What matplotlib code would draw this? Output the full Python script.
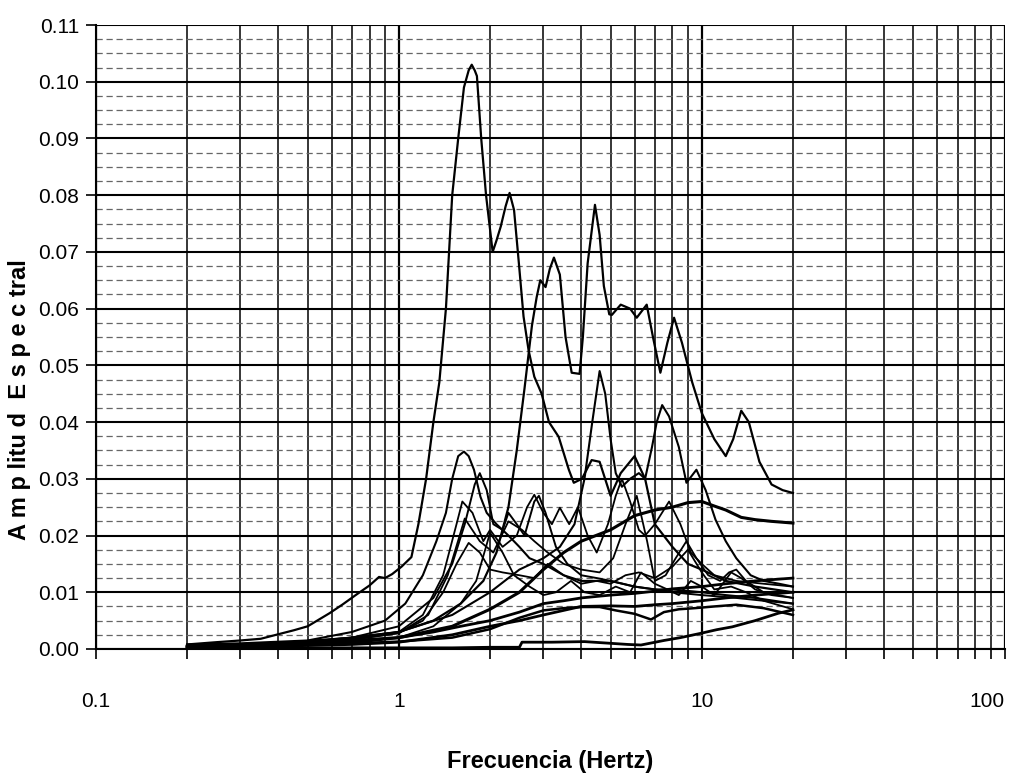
import matplotlib
matplotlib.use("Agg")
import matplotlib.pyplot as plt
from matplotlib.ticker import MultipleLocator, FixedLocator, NullFormatter

# spectra (frequency in Hz, spectral amplitude)
f_a = [0.2, 0.25, 0.3, 0.35, 0.4, 0.45, 0.5, 0.59, 0.65, 0.72, 0.8, 0.86, 0.9, 0.95, 1.02, 1.1, 1.16, 1.23,
       1.3, 1.36, 1.43, 1.5, 1.57, 1.64, 1.70, 1.74, 1.78, 1.81, 1.87, 1.94, 2.04, 2.10, 2.17, 2.25, 2.32,
       2.40, 2.49, 2.58, 2.68, 2.80, 2.96, 3.13, 3.37, 3.64, 3.78, 4.02, 4.33, 4.6, 5.0, 5.4, 6.0, 6.5, 7.0,
       8.0, 9.0, 10, 12, 15, 20]
amp_a = [0.0008, 0.0012, 0.0015, 0.0018, 0.0026, 0.0033, 0.0040, 0.0063, 0.0078, 0.0095, 0.0112, 0.0127,
         0.0125, 0.0132, 0.0145, 0.0162, 0.022, 0.030, 0.040, 0.047, 0.060, 0.080, 0.090, 0.099, 0.102, 0.103,
         0.102, 0.101, 0.090, 0.080, 0.070, 0.072, 0.0745, 0.078, 0.0804, 0.0774, 0.068, 0.0586, 0.0527,
         0.048, 0.045, 0.040, 0.0374, 0.0316, 0.0293, 0.030, 0.0333, 0.033, 0.027, 0.031, 0.034, 0.030,
         0.022, 0.018, 0.015, 0.014, 0.012, 0.011, 0.010]

f_b = [0.2, 0.3, 0.5, 0.7, 1.0, 1.3, 1.6, 1.9, 2.1, 2.3, 2.45, 2.6, 2.75, 2.85, 2.93, 3.05, 3.15, 3.25, 3.4,
       3.55, 3.72, 3.95, 4.05, 4.2, 4.44, 4.6, 4.75, 4.95, 5.05, 5.4, 5.8, 6.1, 6.58, 6.9, 7.3, 7.7, 8.1,
       8.6, 9.3, 10, 11, 12, 12.7, 13.5, 14.3, 15.5, 17, 18.5, 20]
amp_b = [0.0005, 0.0007, 0.0012, 0.002, 0.003, 0.005, 0.008, 0.012, 0.017, 0.025, 0.035, 0.046, 0.057, 0.062,
         0.065, 0.0638, 0.067, 0.069, 0.066, 0.055, 0.0487, 0.0485, 0.055, 0.068, 0.0783, 0.073, 0.064,
         0.059, 0.0589, 0.0607, 0.060, 0.0584, 0.0607, 0.055, 0.0487, 0.054, 0.0584, 0.054, 0.047, 0.0416,
         0.037, 0.034, 0.037, 0.042, 0.040, 0.033, 0.029, 0.028, 0.0275]

f_c = [0.2, 0.4, 0.7, 1.0, 1.5, 2.0, 2.5, 3.0, 3.4, 3.8, 4.1, 4.35, 4.6, 4.8, 5.0, 5.2, 5.45, 5.8, 6.2, 6.5,
       6.85, 7.1, 7.4, 7.8, 8.4, 8.9, 9.6, 10.3, 11.1, 12, 13, 14.5, 16, 18, 20]
amp_c = [0.0005, 0.001, 0.002, 0.003, 0.006, 0.010, 0.014, 0.016, 0.018, 0.022, 0.030, 0.040, 0.049, 0.045,
         0.037, 0.031, 0.0286, 0.030, 0.031, 0.030, 0.0356, 0.040, 0.043, 0.041, 0.0356, 0.0293, 0.0316,
         0.028, 0.0228, 0.019, 0.016, 0.013, 0.012, 0.0115, 0.011]

f_d = [0.2, 0.3, 0.5, 0.7, 0.9, 1.05, 1.2, 1.33, 1.43, 1.5, 1.57, 1.64, 1.7, 1.77, 1.86, 1.95, 2.1, 2.3, 2.5,
       2.7, 3.0, 3.5, 4, 5, 6, 7, 8, 10, 12, 15, 20]
amp_d = [0.0008, 0.001, 0.0015, 0.003, 0.005, 0.008, 0.013, 0.019, 0.024, 0.030, 0.034, 0.0348, 0.034, 0.0316,
         0.0268, 0.024, 0.022, 0.020, 0.018, 0.016, 0.015, 0.013, 0.012, 0.012, 0.011, 0.0105, 0.0105,
         0.010, 0.0095, 0.009, 0.008]

f_e = [0.2, 0.4, 0.7, 1.0, 1.3, 1.5, 1.65, 1.78, 1.85, 1.95, 2.05, 2.2, 2.3, 2.45, 2.6, 2.8, 2.9, 3.05, 3.3,
       3.6, 4.0, 4.5, 5, 6, 7, 8, 10, 13, 16, 20]
amp_e = [0.0005, 0.001, 0.002, 0.004, 0.009, 0.015, 0.022, 0.029, 0.031, 0.028, 0.022, 0.021, 0.024, 0.022,
         0.020, 0.026, 0.027, 0.024, 0.018, 0.015, 0.013, 0.0125, 0.012, 0.011, 0.0105, 0.010, 0.0095,
         0.009, 0.0085, 0.008]

f_f = [0.2, 0.4, 0.7, 1.0, 1.2, 1.4, 1.55, 1.62, 1.75, 1.9, 2.0, 2.2, 2.45, 2.65, 2.8, 3.0, 3.2, 3.4, 3.65,
       3.9, 4.2, 4.5, 4.9, 5.2, 5.45, 5.8, 6.2, 6.5, 7.0, 7.8, 8.5, 9.2, 10, 11, 13, 16, 20]
amp_f = [0.0006, 0.001, 0.0018, 0.003, 0.006, 0.013, 0.022, 0.026, 0.024, 0.019, 0.021, 0.018, 0.020, 0.025,
         0.0272, 0.024, 0.022, 0.0249, 0.022, 0.025, 0.020, 0.017, 0.022, 0.027, 0.030, 0.026, 0.021, 0.020,
         0.022, 0.026, 0.022, 0.017, 0.015, 0.013, 0.012, 0.0115, 0.011]

f_g = [0.2, 0.4, 0.7, 1.0, 1.25, 1.45, 1.65, 1.85, 2.05, 2.3, 2.55, 2.8, 3.1, 3.5, 4.0, 4.6, 5.1, 5.6, 6.1,
       6.6, 7.0, 7.6, 8.2, 8.9, 9.6, 10.5, 11.5, 12.3, 13.0, 14.0, 16, 20]
amp_g = [0.0006, 0.001, 0.0017, 0.0028, 0.006, 0.013, 0.023, 0.019, 0.017, 0.0225, 0.021, 0.019, 0.017,
         0.015, 0.014, 0.0135, 0.016, 0.022, 0.027, 0.019, 0.012, 0.013, 0.016, 0.019, 0.016, 0.013, 0.012,
         0.0135, 0.014, 0.012, 0.010, 0.009]

f_h = [0.2, 0.5, 1.0, 1.5, 2.0, 2.5, 3.0, 3.5, 4.0, 5.0, 6.0, 7.0, 8.0, 9.0, 10, 11, 12, 13.5, 15, 17, 20]
amp_h = [0.0005, 0.001, 0.002, 0.004, 0.007, 0.010, 0.014, 0.017, 0.019, 0.021, 0.0235, 0.0245, 0.025, 0.0258,
         0.026, 0.0252, 0.0245, 0.0232, 0.0228, 0.0225, 0.0222]

f_i = [0.2, 0.4, 0.7, 1.0, 1.2, 1.4, 1.55, 1.7, 1.85, 2.0, 2.2, 2.5, 2.8, 3.1, 3.5, 4.0, 4.5, 5.0, 5.6, 6.2,
       7.0, 8.0, 9.0, 10, 11, 12.5, 14, 16, 20]
amp_i = [0.0005, 0.0009, 0.0016, 0.0028, 0.005, 0.010, 0.015, 0.0187, 0.017, 0.014, 0.0135, 0.013, 0.0125,
         0.015, 0.013, 0.0115, 0.012, 0.0115, 0.013, 0.0135, 0.0125, 0.0145, 0.0175, 0.0135, 0.0105,
         0.011, 0.010, 0.0085, 0.007]

f_j = [0.2, 0.4, 0.7, 1.0, 1.3, 1.6, 1.8, 2.0, 2.2, 2.4, 2.7, 3.0, 3.3, 3.7, 4.1, 4.6, 5.2, 5.8, 6.3, 7.0,
       7.7, 8.4, 9.2, 10, 11, 12.5, 13.5, 15, 17, 20]
amp_j = [0.0004, 0.0008, 0.0013, 0.002, 0.004, 0.008, 0.012, 0.0205, 0.017, 0.013, 0.011, 0.0095, 0.010,
         0.012, 0.010, 0.0095, 0.011, 0.010, 0.0135, 0.0115, 0.0105, 0.0095, 0.012, 0.011, 0.0095, 0.0135,
         0.0125, 0.0105, 0.0095, 0.009]

f_k = [0.2, 0.4, 0.7, 1.0, 1.3, 1.6, 2.0, 2.5, 3.0, 3.5, 4.0, 5.0, 6.0, 7.0, 8.0, 10, 12, 15, 20]
amp_k = [0.0004, 0.0007, 0.0011, 0.002, 0.003, 0.004, 0.005, 0.0065, 0.008, 0.0085, 0.009, 0.0095, 0.0098,
         0.0102, 0.0106, 0.011, 0.0115, 0.012, 0.0125]

f_l = [0.2, 0.4, 0.7, 1.0, 1.5, 2.0, 2.5, 3.0, 4.0, 5.0, 6.0, 7.0, 8.0, 10, 12, 15, 20]
amp_l = [0.0003, 0.0005, 0.0008, 0.0012, 0.0025, 0.004, 0.005, 0.006, 0.0075, 0.0076, 0.0075, 0.0078, 0.008,
         0.0085, 0.009, 0.0095, 0.010]

f_m = [0.2, 0.5, 1.0, 1.5, 2.0, 2.5, 3.0, 3.5, 4.0, 4.6, 5.2, 6.0, 6.8, 7.5, 8.4, 9.5, 11, 13, 16, 20]
amp_m = [0.0004, 0.0007, 0.0013, 0.002, 0.0035, 0.0055, 0.0068, 0.0072, 0.0074, 0.0074, 0.0068, 0.0062,
         0.0052, 0.0065, 0.0070, 0.0072, 0.0075, 0.0078, 0.0072, 0.006]

f_n = [0.2, 0.5, 1.0, 1.5, 2.0, 2.5, 2.55, 3.2, 4.1, 5.0, 5.7, 6.3, 7.5, 8.5, 10, 11.2, 12.6, 15, 17.9, 20]
amp_n = [0.0002, 0.0002, 0.0002, 0.0002, 0.0003, 0.0003, 0.0012, 0.0012, 0.0013, 0.001, 0.0008, 0.0007,
         0.0015, 0.002, 0.0028, 0.0034, 0.0039, 0.005, 0.0063, 0.0069]

curves = [(f_a, amp_a, 1.6), (f_b, amp_b, 1.6), (f_c, amp_c, 1.5), (f_d, amp_d, 1.5), (f_e, amp_e, 1.4),
          (f_f, amp_f, 1.3), (f_g, amp_g, 1.3), (f_h, amp_h, 2.2), (f_i, amp_i, 1.3), (f_j, amp_j, 1.3),
          (f_k, amp_k, 2.0), (f_l, amp_l, 2.0), (f_m, amp_m, 1.8), (f_n, amp_n, 2.0)]

x_ticks = [0.1, 1, 10, 100]
x_tick_labels = ["0.1", "1", "10", "100"]
y_ticks = [0.00, 0.01, 0.02, 0.03, 0.04, 0.05, 0.06, 0.07, 0.08, 0.09, 0.10, 0.11]

font = ["Liberation Sans", "DejaVu Sans"]

fig = plt.figure(figsize=(10.21, 7.79), dpi=100)
ax = fig.add_axes([0.094, 0.1669, 0.890, 0.801])

for f, amp, lw in curves:
    ax.plot(f, amp, color="black", linewidth=lw, zorder=3)

ax.set_xscale("log")
ax.set_xlim(0.1, 100)
ax.set_ylim(0, 0.11)

ax.xaxis.set_major_locator(FixedLocator(x_ticks))
ax.set_xticklabels(x_tick_labels)
minor_x = [m * d for d in [0.1, 1, 10] for m in range(2, 10)]
ax.xaxis.set_minor_locator(FixedLocator(minor_x))
ax.xaxis.set_minor_formatter(NullFormatter())
ax.yaxis.set_major_locator(FixedLocator(y_ticks))
ax.set_yticklabels(["%.2f" % v for v in y_ticks])
ax.yaxis.set_minor_locator(MultipleLocator(0.0025))

ax.grid(which="major", axis="y", color="black", linewidth=1.5, zorder=1)
ax.grid(which="minor", axis="y", color="#666666", linewidth=0.9, linestyle=(0, (5, 3)), zorder=1)
ax.grid(which="major", axis="x", color="black", linewidth=1.6, zorder=1)
ax.grid(which="minor", axis="x", color="black", linewidth=1.1, zorder=1)
ax.set_axisbelow(True)

for side in ["top", "right"]:
    ax.spines[side].set_visible(False)
ax.spines["left"].set_linewidth(1.5)
ax.spines["bottom"].set_linewidth(1.5)

ax.tick_params(axis="x", which="both", direction="out", length=7, width=1.2, pad=24)
ax.tick_params(axis="y", which="major", direction="out", length=7, width=1.2, pad=5)
ax.tick_params(axis="y", which="minor", length=0)
for lab in ax.get_yticklabels():
    lab.set_family(font)
    lab.set_fontsize(15)
for lab in ax.get_xticklabels():
    lab.set_family(font)
    lab.set_fontsize(15)
ax.get_xticklabels()[-1].set_horizontalalignment("right")

ax.set_xlabel("Frecuencia (Hertz)", family=font, fontsize=17, fontweight="bold", labelpad=28)
ax.set_ylabel("A m p litu d  E s p e c tral", family=font, fontsize=17, fontweight="bold")
ax.yaxis.set_label_coords(-0.072, 0.40)

fig.savefig("out.png", dpi=100)
